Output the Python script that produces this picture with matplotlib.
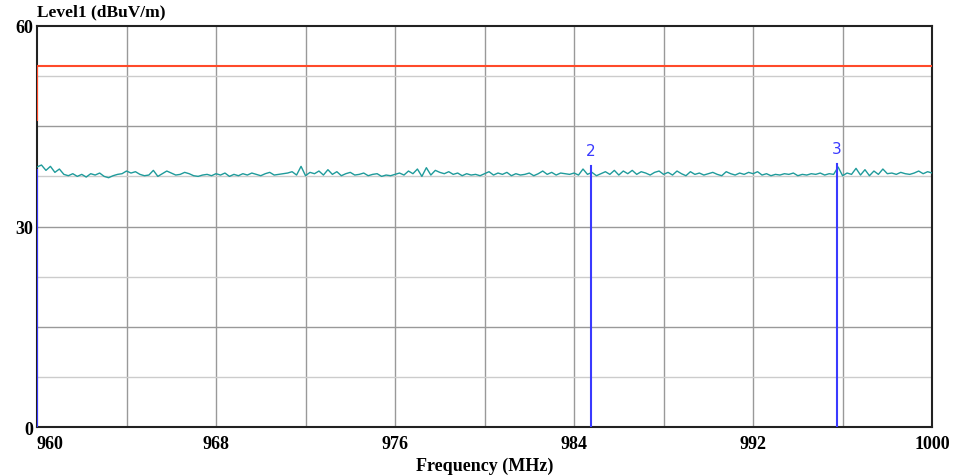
import matplotlib
matplotlib.use("Agg")
import matplotlib.pyplot as plt
import numpy as np

# measured trace, 0.2 MHz steps from 960 to 1000
freq_start = 960.0
freq_step = 0.2
level = [
    38.9, 39.2, 38.4, 39.0, 38.1, 38.6, 37.8, 37.6, 37.9, 37.5, 37.8, 37.4, 37.9, 37.7, 38.0, 37.5, 37.3, 37.6, 37.8, 37.9,
    38.3, 38.0, 38.2, 37.8, 37.6, 37.7, 38.4, 37.5, 37.9, 38.3, 38.0, 37.7, 37.8, 38.1, 37.9, 37.6, 37.5, 37.7, 37.8, 37.6,
    37.9, 37.7, 38.0, 37.5, 37.8, 37.6, 37.9, 37.7, 38.0, 37.8, 37.6, 37.9, 38.1, 37.7, 37.8, 37.9, 38.0, 38.2, 37.7, 39.0,
    37.6, 38.1, 37.9, 38.3, 37.7, 38.5, 37.8, 38.2, 37.6, 37.9, 38.1, 37.7, 37.8, 38.0, 37.6, 37.8, 37.9, 37.5, 37.7, 37.6,
    37.8, 38.0, 37.7, 38.3, 37.9, 38.6, 37.5, 38.8, 37.7, 38.4, 38.1, 37.9, 38.2, 37.8, 38.0, 37.6, 37.9, 37.7, 37.8, 37.6,
    37.9, 38.2, 37.7, 38.0, 37.8, 38.1, 37.6, 37.9, 37.7, 37.8, 38.0, 37.6, 37.9, 38.3, 37.8, 38.1, 37.7, 38.0, 37.9, 37.8,
    38.0, 37.7, 38.6, 37.8, 38.1, 37.6, 37.9, 38.2, 37.8, 38.4, 37.7, 38.3, 37.9, 38.4, 37.8, 38.2, 38.0, 37.7, 38.1, 38.3,
    37.8, 38.1, 37.7, 38.3, 37.9, 37.6, 38.2, 37.8, 38.0, 37.7, 37.9, 38.1, 37.8, 37.6, 38.2, 37.9, 37.7, 38.0, 37.8, 38.1,
    37.9, 38.2, 37.7, 37.9, 37.6, 37.8, 37.7, 37.9, 37.8, 38.0, 37.6, 37.8, 37.7, 37.9, 37.8, 38.0, 37.7, 37.9, 37.8, 38.9,
    37.6, 38.0, 37.8, 38.7, 37.7, 38.5, 37.6, 38.3, 37.8, 38.6, 37.9, 38.0, 37.8, 38.1, 37.9, 37.8, 38.0, 38.3, 37.9, 38.2, 38.0,
]
freq = freq_start + freq_step * np.arange(len(level))

# limit line
limit_freq = [960.0, 960.0, 1000.0]
limit_level = [46.0, 54.0, 54.0]

# markers
marker_names = ["1", "2", "3"]
marker_freq = [960.0, 984.75, 995.75]
marker_level = [38.5, 39.0, 39.3]
show_marker_label = [False, True, True]

x_ticks = [960, 968, 976, 984, 992, 1000]
y_ticks = [0, 30, 60]

fig = plt.figure(figsize=(9.56, 4.77), dpi=100)
ax = fig.add_axes([0.0387, 0.1027, 0.9363, 0.8407])

serif = ["Liberation Serif", "DejaVu Serif"]

# grid
for gx in np.arange(964, 1000, 4):
    ax.axvline(gx, color="#999999", lw=1.0, zorder=1)
for i, gy in enumerate(np.arange(7.5, 60, 7.5)):
    ax.axhline(gy, color="#999999" if i % 2 else "#cccccc", lw=1.0, zorder=1)

ax.plot(limit_freq, limit_level, color="#ff4a2a", lw=1.5, zorder=3)
ax.plot(freq, level, color="#1f9b9b", lw=1.0, zorder=4)

for name, mf, ml, show in zip(marker_names, marker_freq, marker_level, show_marker_label):
    ax.plot([mf, mf], [0, ml], color="#3a3aff", lw=1.5, zorder=5)
    if show:
        ax.text(mf, ml + 1.2, name, color="#3a3aff", fontsize=11,
                ha="center", va="bottom", zorder=6)

ax.set_xlim(960, 1000)
ax.set_ylim(0, 60)
ax.set_xticks(x_ticks)
ax.set_yticks(y_ticks)
ax.set_xticklabels([str(t) for t in x_ticks], fontfamily=serif, fontweight="bold", fontsize=13)
ax.set_yticklabels([str(t) for t in y_ticks], fontfamily=serif, fontweight="bold", fontsize=13)
ax.get_xticklabels()[0].set_horizontalalignment("left")
ax.tick_params(axis="both", length=0)
ax.tick_params(axis="x", pad=6)
ax.tick_params(axis="y", pad=3)

for s in ax.spines.values():
    s.set_color("#222222")
    s.set_linewidth(1.5)

ax.set_xlabel("Frequency (MHz)", fontfamily=serif, fontweight="bold", fontsize=13, labelpad=3)
fig.text(0.0387, 0.958, "Level1 (dBuV/m)", fontfamily=serif, fontweight="bold",
         fontsize=12.5, ha="left", va="bottom")

fig.savefig("out.png", dpi=100)
